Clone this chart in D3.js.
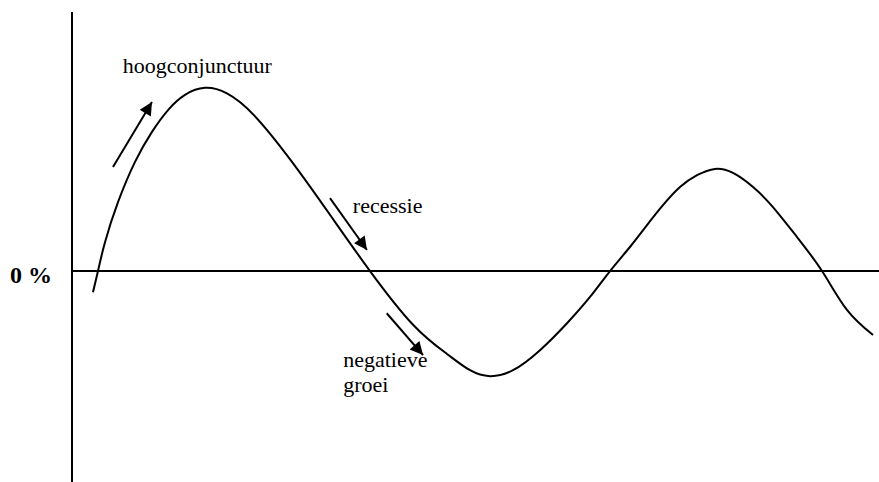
<!DOCTYPE html>
<html>
<head>
<meta charset="utf-8">
<script src="https://cdn.jsdelivr.net/npm/d3@7"></script>
<style>
  body { margin: 0; background: #fff; }
  svg { display: block; }
  .lbl { font-family: "Liberation Serif", "DejaVu Serif", "Noto Serif", serif; fill: #000; }
</style>
</head>
<body>
<div id="chart"></div>
<script>
// economic cycle: time (arbitrary units) vs growth (%)
var cycleX = [2.6, 3.22, 4.09, 5.7, 7.81, 9.91, 11.9, 14.0, 16.48, 19.2, 22.6, 27.26, 32.1, 36.93, 42.26, 46.47, 49.32, 51.8, 54.65, 57.99, 61.34, 64.19, 66.67, 69.14, 71.25, 73.23, 75.34, 77.45, 79.68, 81.91, 84.39, 86.86, 89.84, 92.94, 96.03, 99.26];
var cycleY = [-0.57, 0, 0.78, 1.86, 2.95, 3.76, 4.35, 4.76, 4.95, 4.8, 4.2, 2.95, 1.48, 0, -1.45, -2.24, -2.68, -2.84, -2.68, -2.14, -1.41, -0.7, 0, 0.65, 1.24, 1.78, 2.27, 2.59, 2.76, 2.65, 2.27, 1.73, 0.92, 0, -1.05, -1.73];

// annotation arrows [x0, y0, x1, y1] and their labels
var arrowNames = ["hoogconjunctuur", "recessie", "negatieve groei"];
var arrowLines = [
  [5.08, 2.81, 9.91, 4.57],
  [31.97, 1.97, 36.55, 0.57],
  [39.0, -1.14, 43.5, -2.27]
];
var labelPos = [[6.3, 5.35], [34.8, 1.57], [33.6, -2.6]];

var zeroLabel = "0 %";

var svgWidth = 879;
var svgHeight = 482;

var svg = d3.select("#chart")
  .append("svg")
  .attr("width", svgWidth)
  .attr("height", svgHeight);

var x = d3.scaleLinear().domain([0, 100]).range([72, 879]);
var y = d3.scaleLinear().domain([-5.7, 7]).range([482, 12]);

// axes
svg.append("line")
  .attr("x1", x(0)).attr("x2", x(0))
  .attr("y1", y(7)).attr("y2", y(-5.7))
  .attr("stroke", "#000").attr("stroke-width", 2);

svg.append("line")
  .attr("x1", x(0)).attr("x2", x(100))
  .attr("y1", y(0)).attr("y2", y(0))
  .attr("stroke", "#000").attr("stroke-width", 2);

svg.append("text")
  .attr("class", "lbl")
  .attr("x", 10)
  .attr("y", y(0) + 12)
  .attr("font-size", 24)
  .attr("font-weight", "bold")
  .text(zeroLabel);

// the curve
var points = cycleX.map((d, i) => [d, cycleY[i]]);
var line = d3.line()
  .x(d => x(d[0]))
  .y(d => y(d[1]))
  .curve(d3.curveNatural);

svg.append("path")
  .datum(points)
  .attr("d", line)
  .attr("fill", "none")
  .attr("stroke", "#000")
  .attr("stroke-width", 2);

// arrow heads
svg.append("defs").append("marker")
  .attr("id", "head")
  .attr("viewBox", "0 0 10 10")
  .attr("refX", 10).attr("refY", 5)
  .attr("markerWidth", 8.5).attr("markerHeight", 6.5)
  .attr("markerUnits", "strokeWidth")
  .attr("orient", "auto")
  .append("path")
  .attr("d", "M0,0 L10,5 L0,10 Z")
  .attr("fill", "#000");

svg.append("g")
  .selectAll("line")
  .data(arrowLines)
  .enter()
  .append("line")
  .attr("x1", d => x(d[0]))
  .attr("y1", d => y(d[1]))
  .attr("x2", d => x(d[2]))
  .attr("y2", d => y(d[3]))
  .attr("stroke", "#000")
  .attr("stroke-width", 2)
  .attr("marker-end", "url(#head)");

// labels
svg.append("g")
  .selectAll("text")
  .data(arrowNames)
  .enter()
  .append("text")
  .attr("class", "lbl")
  .attr("font-size", 22)
  .attr("x", (d, i) => x(labelPos[i][0]))
  .attr("y", (d, i) => y(labelPos[i][1]))
  .each(function (d, i) {
    var words = d.split(" ");
    var el = d3.select(this);
    words.forEach(function (w, j) {
      el.append("tspan")
        .attr("x", x(labelPos[i][0]))
        .attr("dy", j === 0 ? 0 : 25)
        .text(w);
    });
  });
</script>
</body>
</html>
